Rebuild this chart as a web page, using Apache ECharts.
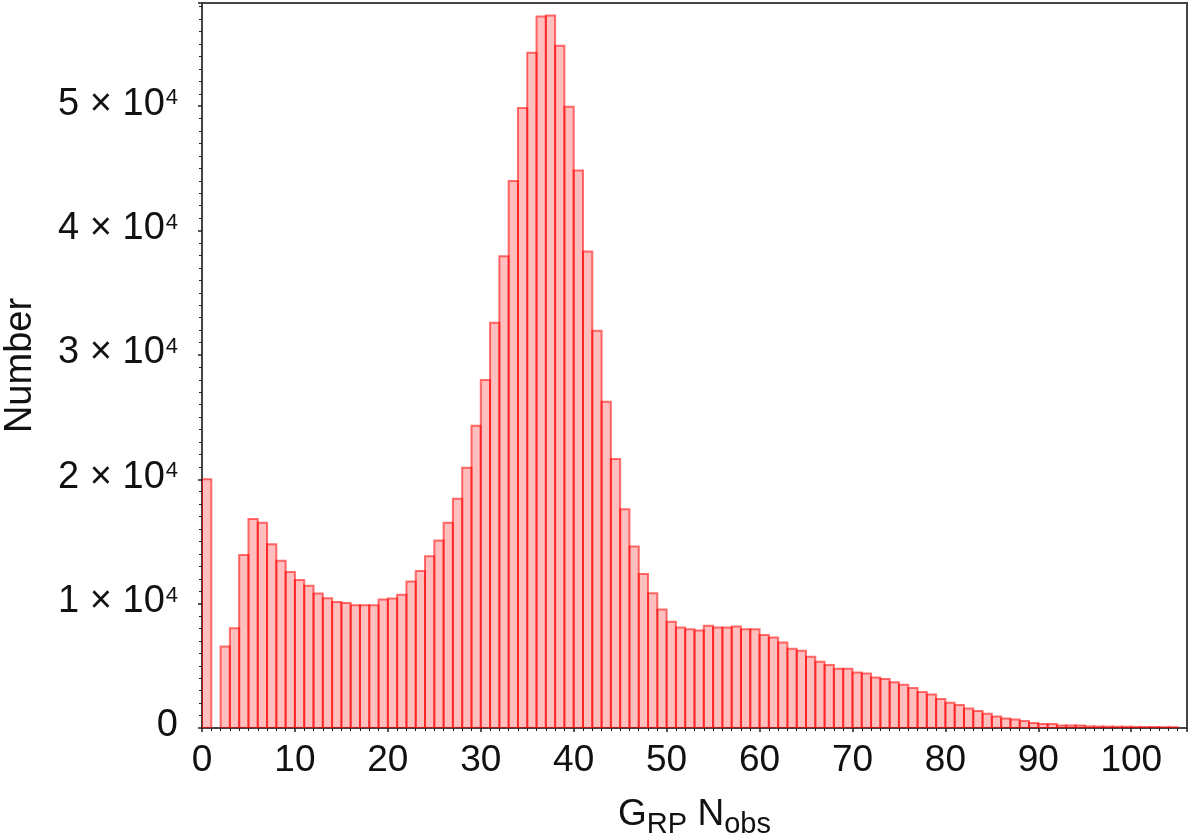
<!DOCTYPE html>
<html>
<head>
<meta charset="utf-8">
<script src="https://cdn.jsdelivr.net/npm/echarts@6/dist/echarts.min.js"></script>
<style>
  html, body { margin: 0; padding: 0; background: #fff; }
  #chart { width: 1200px; height: 840px; }
</style>
</head>
<body>
<div id="chart"></div>
<script>
// histogram: each bin is 1 wide, bin i covers [i, i+1)
const binWidth = 1
const counts = [
  20000, 0, 6550, 8030, 13920, 16810, 16510, 14780, 13440, 12550,
  11910, 11430, 10810, 10440, 10140, 10060, 9880, 9880, 9880, 10330,
  10410, 10710, 11780, 12630, 13810, 15070, 16510, 18440, 20930, 24310,
  27980, 32580, 37940, 43980, 49850, 54300, 57210, 57290, 54860, 49960,
  44840, 38310, 31940, 26240, 21630, 17590, 14590, 12390, 10840, 9530,
  8540, 8080, 7950, 7840, 8220, 8080, 8080, 8160, 7950, 7950,
  7470, 7280, 6880, 6370, 6210, 5730, 5330, 5060, 4760, 4760,
  4470, 4390, 4060, 3950, 3680, 3480, 3210, 2890, 2700, 2330,
  2030, 1850, 1570, 1370, 1150, 930, 770, 690, 560, 400,
  320, 320, 210, 210, 210, 130, 120, 110, 100, 100,
  90, 80, 80, 70, 70
]
const yMajorLabels = ['0', '1', '2', '3', '4', '5']

const font = 'Liberation Sans'
const chart = echarts.init(document.getElementById('chart'))

const option = {
  backgroundColor: '#fff',
  animation: false,
  grid: {
    left: 202,
    right: 13,
    top: 3,
    bottom: 112,
    outerBoundsMode: 'none',
    containLabel: false,
    show: true,
    borderColor: '#444',
    borderWidth: 2
  },
  xAxis: {
    type: 'value',
    min: 0,
    max: 106,
    interval: 10,
    name: '{m|G}{s|RP}{sp| }{m|N}{s|obs}',
    nameLocation: 'middle',
    nameGap: 68,
    nameTextStyle: {
      rich: {
        m: { fontFamily: font, fontSize: 37, color: '#111', lineHeight: 44, verticalAlign: 'top' },
        s: { fontFamily: font, fontSize: 29, color: '#111', lineHeight: 29, verticalAlign: 'top', padding: [14, 0, 0, 0] },
        sp: { fontFamily: font, fontSize: 37, lineHeight: 44, verticalAlign: 'top' }
      }
    },
    axisLine: { show: true, lineStyle: { color: '#444', width: 2 } },
    axisTick: { show: true, inside: false, length: 4, lineStyle: { color: '#222', width: 1.5 } },
    minorTick: { show: true, splitNumber: 10, length: 3, lineStyle: { color: '#222', width: 1 } },
    splitLine: { show: false },
    axisLabel: {
      showMaxLabel: false,
      margin: 14,
      fontFamily: font,
      fontSize: 37,
      color: '#111'
    }
  },
  yAxis: {
    type: 'value',
    min: 0,
    max: 58300,
    interval: 10000,
    name: 'Number',
    nameLocation: 'middle',
    nameGap: 162,
    nameTextStyle: { fontFamily: font, fontSize: 38, color: '#111' },
    axisLine: { show: true, lineStyle: { color: '#444', width: 2 } },
    axisTick: { show: true, inside: false, length: 4, lineStyle: { color: '#222', width: 1.5 } },
    minorTick: { show: true, splitNumber: 10, length: 3, lineStyle: { color: '#222', width: 1 } },
    splitLine: { show: false },
    axisLabel: {
      showMaxLabel: false,
      margin: 24,
      formatter: function (v) {
        const k = Math.round(v / 10000)
        if (k === 0) return '{a|0}'
        return '{a|' + yMajorLabels[k] + ' × 10}{b|4}'
      },
      rich: {
        a: { fontFamily: font, fontSize: 38, color: '#111', lineHeight: 42, verticalAlign: 'top' },
        b: { fontFamily: font, fontSize: 22, color: '#111', lineHeight: 22, verticalAlign: 'top', padding: [2, 0, 0, 1] }
      }
    }
  },
  series: [
    {
      type: 'custom',
      clip: true,
      data: counts.map((c, i) => [i * binWidth, c]),
      renderItem: function (params, api) {
        const x0 = api.value(0)
        const y = api.value(1)
        if (!(y > 0)) return null
        const p0 = api.coord([x0, 0])
        const p1 = api.coord([x0 + binWidth, y])
        return {
          type: 'rect',
          shape: { x: p0[0], y: p1[1], width: p1[0] - p0[0], height: p0[1] - p1[1] },
          style: { fill: 'rgba(255,0,0,0.25)', stroke: 'rgba(255,0,0,0.55)', lineWidth: 2 }
        }
      }
    }
  ]
}
chart.setOption(option)
</script>
</body>
</html>
